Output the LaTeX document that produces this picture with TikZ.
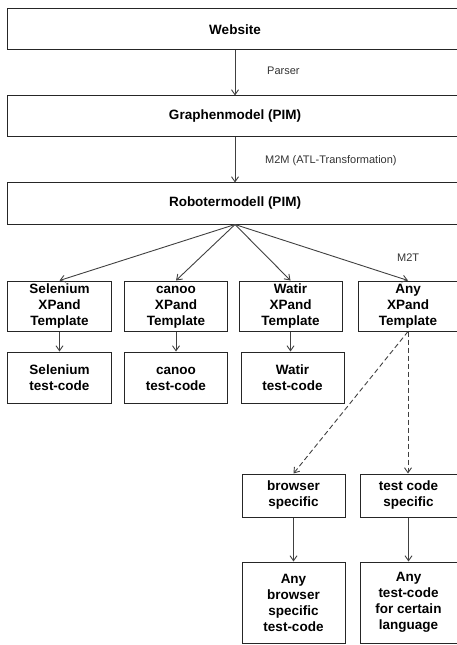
\documentclass[tikz,border=0pt]{standalone}
\usepackage{fontspec}
\setmainfont{Liberation Sans}
\usetikzlibrary{arrows.meta, positioning}

\begin{document}
\begin{tikzpicture}[
  x=1bp, y=-1bp,
  box/.style={draw=black!85, line width=1bp, align=center, inner sep=2bp,
    font=\fontsize{13.5bp}{16bp}\selectfont\bfseries},
  arrow/.style={-{Straight Barb[length=5bp, width=7bp]}, line width=0.9bp, draw=black!75},
  darrow/.style={arrow, dash pattern=on 5bp off 3bp},
  lab/.style={font=\fontsize{11bp}{13bp}\selectfont, text=black!80, anchor=west, inner sep=0pt}
]
  \useasboundingbox (0,0) rectangle (457,645);

  % model layers
  \node[box, minimum width=454bp, minimum height=41bp] (web) at (235,29.5) {Website};
  \node[box, minimum width=454bp, minimum height=41bp] (graph) at (235,116.5) {Graphenmodel (PIM)};
  \node[box, minimum width=454bp, minimum height=41bp] (robot) at (235,203.5) {Robotermodell (PIM)};
  \draw[arrow] (web) -- (graph);
  \draw[arrow] (graph) -- (robot);
  \node[lab] (parser) at (267,71) {Parser};
  \node[lab] (m2m) at (265,161) {M2M (ATL-Transformation)};
  \node[lab] (m2t) at (397,258) {M2T};

  % templates
  \node[box, minimum width=103bp, minimum height=50bp] (sel) at (59.5,306) {Selenium\\XPand\\Template};
  \node[box, minimum width=103bp, minimum height=50bp] (canoo) at (176,306) {\vphantom{C}canoo\\XPand\\Template};
  \node[box, minimum width=103bp, minimum height=50bp] (watir) at (290.5,306) {Watir\\XPand\\Template};
  \node[box, minimum width=99bp, minimum height=50bp] (any) at (408,306) {Any\\XPand\\Template};
  \foreach \t in {sel, canoo, watir, any}
    \draw[arrow] (robot.south) -- (\t.north);

  % generated code
  \node[box, minimum width=103bp, minimum height=51bp] (selcode) at (59.5,377.5) {Selenium\\test-code};
  \node[box, minimum width=103bp, minimum height=51bp] (canoocode) at (176,377.5) {\vphantom{C}canoo\\test-code};
  \node[box, minimum width=103bp, minimum height=51bp] (watircode) at (292.5,377.5) {Watir\\test-code};
  \draw[arrow] (sel) -- (selcode);
  \draw[arrow] (canoo) -- (canoocode);
  \draw[arrow] (watir.south) -- (watir.south |- watircode.north);

  % generic branch
  \node[box, minimum width=103bp, minimum height=43bp] (bspec) at (293.5,495.5) {browser\\specific};
  \node[box, minimum width=97bp, minimum height=43bp] (tspec) at (408.5,495.5) {test code\\specific};
  \draw[darrow] (any.south) -- (bspec.north);
  \draw[darrow] (any.south) -- (any.south |- tspec.north);

  \node[box, minimum width=103bp, minimum height=81bp] (anyb) at (293.5,602.5) {Any\\browser\\specific\\test-code};
  \node[box, minimum width=97bp, minimum height=81bp] (anyl) at (408.5,602.5) {Any\\test-code\\for certain\\language};
  \draw[arrow] (bspec) -- (anyb);
  \draw[arrow] (tspec) -- (anyl);
\end{tikzpicture}
\end{document}
